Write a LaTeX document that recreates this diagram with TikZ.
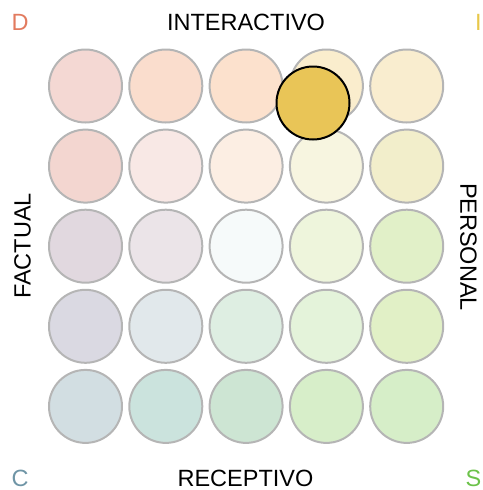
\documentclass[tikz,border=0pt]{standalone}
\usepackage{fontspec}
\setmainfont{Liberation Sans}
\definecolor{cDcol}{HTML}{E27B5F}
\definecolor{cIcol}{HTML}{E8C84A}
\definecolor{cCcol}{HTML}{6F95A6}
\definecolor{cScol}{HTML}{6CC24A}
\definecolor{rim}{HTML}{B5B5B5}
\definecolor{dot}{HTML}{E9C557}
% grid colours, row-major
\definecolor{g11}{HTML}{F4D8D3}\definecolor{g12}{HTML}{FADDCD}\definecolor{g13}{HTML}{FCE1CD}\definecolor{g14}{HTML}{FAEDCD}\definecolor{g15}{HTML}{F9EDCF}
\definecolor{g21}{HTML}{F3D6D0}\definecolor{g22}{HTML}{F8E8E5}\definecolor{g23}{HTML}{FCEEE3}\definecolor{g24}{HTML}{F7F5E0}\definecolor{g25}{HTML}{F2EECB}
\definecolor{g31}{HTML}{E1D8DF}\definecolor{g32}{HTML}{EBE4E8}\definecolor{g33}{HTML}{F6FAFA}\definecolor{g34}{HTML}{EEF5DC}\definecolor{g35}{HTML}{E1F0C8}
\definecolor{g41}{HTML}{DAD9E2}\definecolor{g42}{HTML}{E1E8EB}\definecolor{g43}{HTML}{DEEEE2}\definecolor{g44}{HTML}{E4F3DA}\definecolor{g45}{HTML}{E1F0C6}
\definecolor{g51}{HTML}{D2DEE2}\definecolor{g52}{HTML}{CBE3DD}\definecolor{g53}{HTML}{CDE5D3}\definecolor{g54}{HTML}{D7EEC9}\definecolor{g55}{HTML}{D6EEC8}
\tikzset{
  cell/.style={circle, draw=rim, line width=2pt, minimum size=73pt, inner sep=0pt},
  marker/.style={circle, draw=black, line width=2pt, fill=dot, minimum size=73pt, inner sep=0pt},
  axislabel/.style={inner sep=0pt, font=\fontsize{23.5}{26}\selectfont},
  cornerlabel/.style={inner sep=0pt, font=\fontsize{23.5}{26}\selectfont},
}
\begin{document}
\begin{tikzpicture}[x=1pt,y=-1pt]
\useasboundingbox (0,0) rectangle (482,490);
\foreach \r in {1,...,5}{
  \foreach \c in {1,...,5}{
    \node[cell, fill=g\r\c] (n\r\c) at ({85.5+80.3*(\c-1)},{86+80.1*(\r-1)}) {};
  }
}
\node[marker] (sel) at (313,103) {};
\node[axislabel] (top) at (246,22) {INTERACTIVO};
\node[axislabel] (bottom) at (245.5,478) {RECEPTIVO};
\node[axislabel, rotate=90] (left) at (22.5,246) {FACTUAL};
\node[axislabel, rotate=-90] (right) at (468.5,247) {PERSONAL};
\node[cornerlabel, text=cDcol] (D) at (20,22) {D};
\node[cornerlabel, text=cIcol] (I) at (478.5,22) {I};
\node[cornerlabel, text=cCcol] (C) at (20,478) {C};
\node[cornerlabel, text=cScol] (S) at (473.5,478) {S};
\end{tikzpicture}
\end{document}
